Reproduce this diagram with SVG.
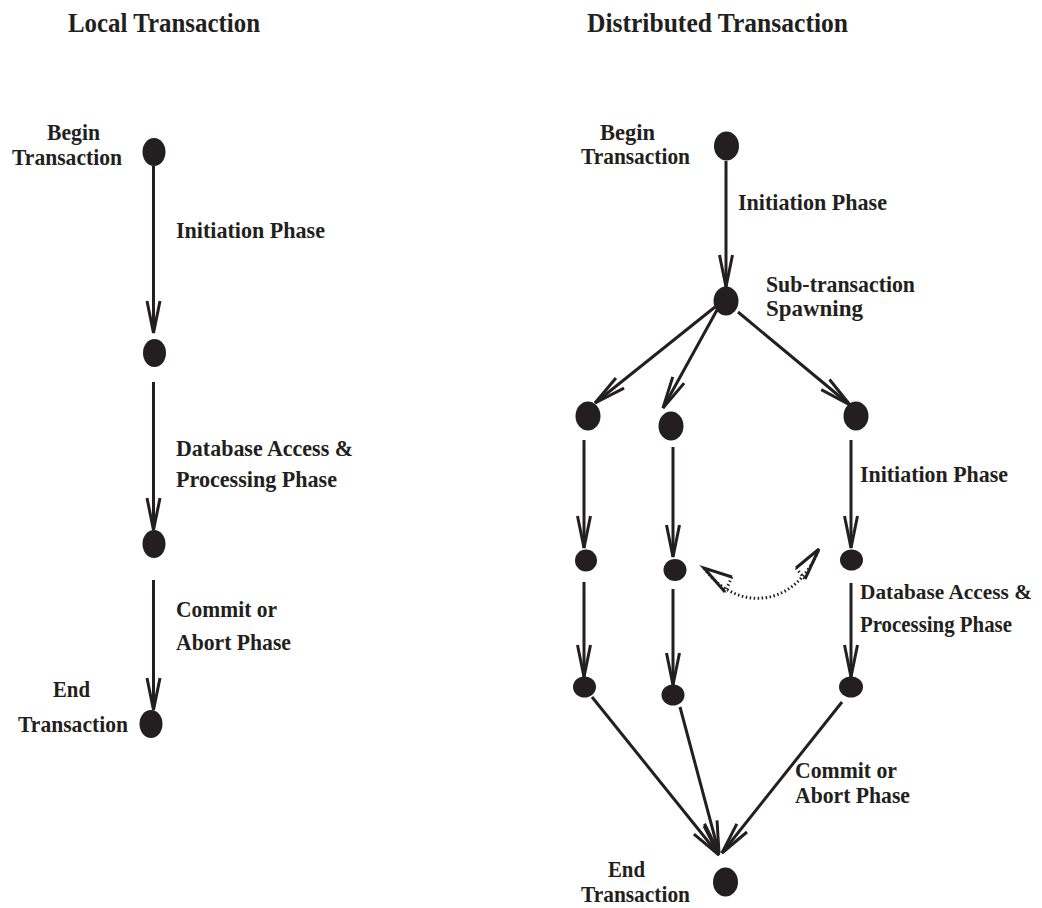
<svg xmlns="http://www.w3.org/2000/svg" width="1042" height="908" viewBox="0 0 1042 908">
<style>
text{font-family:"Liberation Serif","Times New Roman",serif;font-weight:bold;fill:#231f20;font-size:23px}
.title{font-size:28px}
.tight{font-size:21px}
.node{fill:#231f20}
.edge{fill:none;stroke:#231f20;stroke-width:3;marker-end:url(#ah)}
.dot{fill:none;stroke:#231f20;stroke-width:3;stroke-dasharray:1.5 2.5}
.wing{fill:none;stroke:#231f20;stroke-width:3}
</style>
<defs>
<marker id="ah" markerUnits="userSpaceOnUse" viewBox="-40 -10 44 20" refX="0" refY="0" markerWidth="44" markerHeight="20" orient="auto">
<path d="M-32,-6.5 L0,0 L-32,6.5" fill="none" stroke="#231f20" stroke-width="3"/>
</marker>
</defs>
<rect width="1042" height="908" fill="#ffffff"/>
<g id="titles">
<text class="title" x="68" y="32" textLength="192" lengthAdjust="spacingAndGlyphs">Local Transaction</text>
<text class="title" x="587" y="32" textLength="261" lengthAdjust="spacingAndGlyphs">Distributed Transaction</text>
</g>
<g id="connectors">
<line class="edge" x1="153.5" y1="166" x2="153.5" y2="333"/>
<line class="edge" x1="153.5" y1="382" x2="153.5" y2="530"/>
<line class="edge" x1="153.5" y1="580" x2="153.5" y2="710"/>
<line class="edge" x1="726" y1="161" x2="726" y2="287"/>
<line class="edge" x1="715" y1="307" x2="595" y2="403"/>
<line class="edge" x1="717" y1="310" x2="663" y2="408"/>
<line class="edge" x1="738" y1="312" x2="850" y2="405"/>
<line class="edge" x1="584" y1="440" x2="584" y2="548"/>
<line class="edge" x1="673" y1="447" x2="673" y2="557"/>
<line class="edge" x1="851" y1="440" x2="851" y2="548"/>
<line class="edge" x1="584" y1="582" x2="584" y2="677"/>
<line class="edge" x1="673" y1="589" x2="673" y2="685"/>
<line class="edge" x1="851" y1="583" x2="851" y2="677"/>
<line class="edge" x1="592" y1="697" x2="719" y2="855"/>
<line class="edge" x1="680" y1="707" x2="719" y2="853"/>
<line class="edge" x1="842" y1="702" x2="722" y2="853"/>
<g id="interaction">
<path class="dot" d="M704,568 C735,612 795,610 819,549"/>
<path class="wing" d="M732,577 L704,568 L725,592"/>
<line class="dot" x1="732" y1="577" x2="725" y2="592"/>
<path class="wing" d="M796,568 L819,549 L805,579"/>
<line class="dot" x1="796" y1="568" x2="805" y2="579"/>
</g>
</g>
<g id="local-begin">
<ellipse class="node" cx="154" cy="152" rx="11.5" ry="14"/>
<text x="47" y="140" textLength="53" lengthAdjust="spacingAndGlyphs">Begin</text>
<text x="12" y="165" textLength="110" lengthAdjust="spacingAndGlyphs">Transaction</text>
</g>
<g id="local-n2"><ellipse class="node" cx="154.5" cy="353" rx="11.5" ry="14"/></g>
<g id="local-n3"><ellipse class="node" cx="154" cy="544" rx="11.5" ry="14"/></g>
<g id="local-end">
<ellipse class="node" cx="151" cy="724" rx="11.5" ry="14"/>
<text x="53" y="697" textLength="37" lengthAdjust="spacingAndGlyphs">End</text>
<text x="18" y="732" textLength="110" lengthAdjust="spacingAndGlyphs">Transaction</text>
</g>
<g id="local-labels">
<text x="176" y="238" textLength="149" lengthAdjust="spacingAndGlyphs">Initiation Phase</text>
<text x="176" y="456" textLength="177" lengthAdjust="spacingAndGlyphs">Database Access &amp;</text>
<text x="176" y="487" textLength="161" lengthAdjust="spacingAndGlyphs">Processing Phase</text>
<text x="176" y="617" textLength="101" lengthAdjust="spacingAndGlyphs">Commit or</text>
<text x="176" y="650" textLength="115" lengthAdjust="spacingAndGlyphs">Abort Phase</text>
</g>
<g id="dist-begin">
<ellipse class="node" cx="726.5" cy="146" rx="12.5" ry="14.5"/>
<text x="600" y="140" textLength="55" lengthAdjust="spacingAndGlyphs">Begin</text>
<text x="581" y="164" textLength="109" lengthAdjust="spacingAndGlyphs">Transaction</text>
</g>
<g id="dist-spawn">
<ellipse class="node" cx="726" cy="301" rx="12.5" ry="14.5"/>
<text x="766" y="292" textLength="149" lengthAdjust="spacingAndGlyphs">Sub-transaction</text>
<text x="766" y="316" textLength="97" lengthAdjust="spacingAndGlyphs">Spawning</text>
</g>
<g id="dist-a1"><ellipse class="node" cx="588" cy="416" rx="12.5" ry="14.5"/></g>
<g id="dist-b1"><ellipse class="node" cx="671" cy="426" rx="12.5" ry="14.5"/></g>
<g id="dist-c1"><ellipse class="node" cx="856" cy="416" rx="12.5" ry="14.5"/></g>
<g id="dist-a2"><ellipse class="node" cx="586" cy="560.5" rx="11" ry="11"/></g>
<g id="dist-b2"><ellipse class="node" cx="675" cy="570" rx="11.5" ry="11"/></g>
<g id="dist-c2"><ellipse class="node" cx="851.5" cy="560" rx="11.5" ry="10.5"/></g>
<g id="dist-a3"><ellipse class="node" cx="584.5" cy="687" rx="11.5" ry="10.5"/></g>
<g id="dist-b3"><ellipse class="node" cx="673" cy="695" rx="11.5" ry="10.5"/></g>
<g id="dist-c3"><ellipse class="node" cx="851" cy="687" rx="12" ry="10.5"/></g>
<g id="dist-end">
<ellipse class="node" cx="725.5" cy="882" rx="12.5" ry="14.5"/>
<text x="608" y="877" textLength="37" lengthAdjust="spacingAndGlyphs">End</text>
<text x="581" y="902" textLength="109" lengthAdjust="spacingAndGlyphs">Transaction</text>
</g>
<g id="dist-labels">
<text x="738" y="210" textLength="149" lengthAdjust="spacingAndGlyphs">Initiation Phase</text>
<text x="860" y="482" textLength="148" lengthAdjust="spacingAndGlyphs">Initiation Phase</text>
<text class="tight" x="860" y="599" textLength="172" lengthAdjust="spacingAndGlyphs">Database Access &amp;</text>
<text x="860" y="632" textLength="152" lengthAdjust="spacingAndGlyphs">Processing Phase</text>
<text x="795" y="778" textLength="102" lengthAdjust="spacingAndGlyphs">Commit or</text>
<text x="795" y="803" textLength="115" lengthAdjust="spacingAndGlyphs">Abort Phase</text>
</g>
</svg>
